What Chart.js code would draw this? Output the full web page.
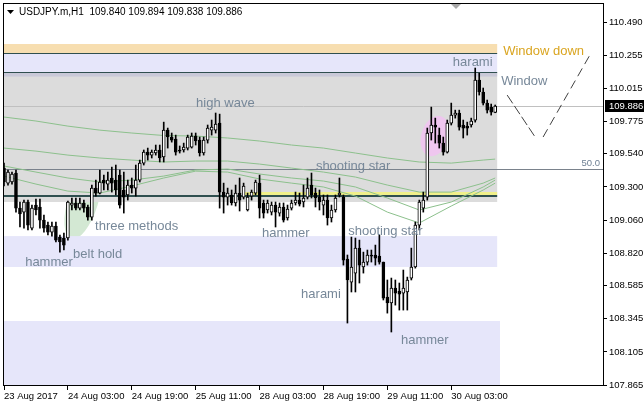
<!DOCTYPE html>
<html>
<head>
<meta charset="utf-8">
<script src="https://cdn.jsdelivr.net/npm/chart.js@4.4.0/dist/chart.umd.min.js"></script>
<style>
html, body { margin: 0; padding: 0; background: #fff; }
canvas { display: block; }
</style>
</head>
<body>
<canvas id="grafica" width="644" height="408"></canvas>
<script>
// USDJPY.m H1 - velas
const simbolo = 'USDJPY.m,H1';
const tickIdx = [0, 16, 32, 48, 64, 80, 96, 112];
const tickText = ['23 Aug 2017', '24 Aug 03:00', '24 Aug 19:00', '25 Aug 11:00', '28 Aug 03:00', '28 Aug 19:00', '29 Aug 11:00', '30 Aug 03:00'];
const yTicks = [110.490, 110.255, 110.015, 109.775, 109.540, 109.300, 109.060, 108.820, 108.585, 108.345, 108.105, 107.865];

const open = [109.437,109.328,109.336,109.401,109.147,109.118,109.191,109.002,109.169,109.155,
109.060,109.024,108.973,109.017,108.937,108.930,108.930,109.169,109.184,109.147,
109.184,109.155,109.082,109.292,109.256,109.350,109.321,109.365,109.350,109.386,
109.278,109.242,109.314,109.292,109.350,109.473,109.553,109.531,109.546,109.568,
109.517,109.712,109.662,109.647,109.568,109.568,109.582,109.589,109.669,109.640,
109.546,109.640,109.712,109.712,109.763,109.263,109.227,109.242,109.184,109.256,
109.227,109.133,109.234,109.256,109.328,109.184,109.133,109.118,109.169,109.111,
109.155,109.075,109.147,109.184,109.205,109.191,109.227,109.314,109.256,109.227,
109.169,109.205,109.075,109.133,109.242,109.227,108.778,108.611,108.676,108.857,
108.720,108.756,108.807,108.807,108.799,108.756,108.502,108.459,108.568,108.546,
108.531,108.539,108.640,108.720,109.024,109.147,109.227,109.691,109.749,109.676,
109.618,109.553,109.763,109.821,109.836,109.749,109.741,109.749,109.785,110.075,
109.988,109.908,109.879,109.840];
const high = [109.473,109.423,109.408,109.423,109.191,109.205,109.205,109.169,109.213,109.213,
109.097,109.046,109.046,109.046,108.952,108.966,109.198,109.220,109.220,109.220,
109.205,109.169,109.314,109.350,109.423,109.386,109.408,109.444,109.459,109.423,
109.408,109.350,109.365,109.459,109.495,109.568,109.582,109.568,109.604,109.604,
109.770,109.727,109.691,109.676,109.597,109.618,109.676,109.691,109.691,109.662,
109.662,109.749,109.785,109.836,109.828,109.328,109.292,109.278,109.314,109.365,
109.328,109.256,109.278,109.350,109.386,109.205,109.205,109.191,109.191,109.184,
109.184,109.169,109.205,109.263,109.256,109.314,109.365,109.401,109.292,109.278,
109.242,109.242,109.169,109.242,109.365,109.242,108.807,108.937,108.930,108.915,
108.828,108.843,108.843,108.879,108.952,108.756,108.626,108.640,108.626,108.604,
108.698,108.647,108.857,109.046,109.205,109.263,109.727,109.879,109.799,109.727,
109.662,109.785,109.908,109.857,109.857,109.785,109.770,109.799,110.162,110.125,
110.017,109.930,109.901,109.894];
const low = [109.307,109.314,109.321,109.118,109.010,109.002,108.988,108.988,109.097,109.002,
108.973,108.952,108.944,108.901,108.828,108.843,108.915,109.133,109.133,109.133,
109.118,109.060,109.060,109.234,109.249,109.278,109.278,109.263,109.242,109.147,
109.111,109.205,109.256,109.234,109.336,109.459,109.495,109.510,109.531,109.481,
109.481,109.582,109.625,109.531,109.546,109.553,109.568,109.582,109.604,109.524,
109.531,109.618,109.676,109.691,109.147,109.111,109.169,109.169,109.162,109.126,
109.213,109.126,109.205,109.242,109.075,109.075,109.111,109.097,109.010,109.089,
109.046,109.060,109.133,109.169,109.162,109.155,109.213,109.220,109.155,109.133,
109.097,109.024,109.046,109.118,109.227,108.734,108.314,108.539,108.539,108.604,
108.676,108.734,108.756,108.734,108.741,108.481,108.386,108.249,108.444,108.408,
108.408,108.408,108.626,108.712,108.988,109.118,109.205,109.640,109.618,109.582,
109.531,109.546,109.749,109.799,109.712,109.655,109.676,109.734,109.770,109.966,
109.894,109.836,109.821,109.838];
const close = [109.336,109.408,109.394,109.147,109.104,109.191,109.024,109.147,109.133,109.060,
109.002,108.973,109.017,108.915,108.901,108.879,109.191,109.184,109.147,109.184,
109.147,109.082,109.292,109.256,109.336,109.328,109.350,109.328,109.278,109.169,
109.227,109.314,109.292,109.350,109.473,109.553,109.531,109.553,109.568,109.510,
109.712,109.662,109.640,109.553,109.560,109.589,109.662,109.669,109.633,109.546,
109.640,109.727,109.734,109.756,109.263,109.227,109.256,109.184,109.256,109.205,
109.307,109.227,109.263,109.336,109.147,109.111,109.184,109.169,109.118,109.155,
109.060,109.140,109.184,109.205,109.176,109.220,109.292,109.242,109.220,109.191,
109.205,109.075,109.133,109.220,109.256,108.770,108.626,108.720,108.857,108.734,
108.756,108.807,108.799,108.785,108.756,108.495,108.459,108.568,108.531,108.524,
108.568,108.626,108.720,109.024,109.191,109.205,109.691,109.749,109.734,109.618,
109.553,109.763,109.821,109.836,109.734,109.727,109.727,109.778,110.075,109.988,
109.908,109.857,109.843,109.886];

// medias moviles (leidas cada 8 barras)
const maIdx = [0, 8, 16, 24, 32, 40, 48, 56, 64, 72, 80, 88, 96, 104, 112, 120, 123];
const maLenta = [109.807,109.778,109.741,109.712,109.691,109.673,109.669,109.655,109.633,109.604,109.582,109.546,109.510,109.481,109.473,109.495,109.502];
const maMedia = [109.582,109.560,109.531,109.510,109.495,109.481,109.488,109.488,109.466,109.437,109.408,109.372,109.314,109.263,109.263,109.328,109.365];
const maRapida1 = [109.452,109.408,109.365,109.336,109.350,109.379,109.423,109.430,109.394,109.365,109.343,109.300,109.220,109.133,109.191,109.300,109.350];
const maRapida2 = [109.379,109.321,109.270,109.256,109.307,109.365,109.415,109.408,109.358,109.328,109.300,109.234,109.118,109.039,109.162,109.278,109.328];

// zigzag "Window"
const ventanaIdxA = [126, 133];
const ventanaValA = [109.966, 109.662];
const ventanaIdxB = [135, 147];
const ventanaValB = [109.662, 110.271];

const fibo50 = 109.430;
const yMin = 107.865;
const yMax = 110.626;
const nCat = 151;

const fuente = "'Liberation Sans', Arial, sans-serif";

const etiquetas = [];
for (let i = 0; i < nCat; i++) {
  const k = tickIdx.indexOf(i);
  etiquetas.push(k >= 0 ? tickText[k] : '');
}

function serieDispersa(idx, vals) {
  const d = new Array(nCat).fill(null);
  idx.forEach(function (k, j) { d[k] = vals[j]; });
  return d;
}

// zonas de fondo (indice de barra, precio)
const cajas = [
  { i0: 0, i1: 123.5, p0: 110.336, p1: 110.270, color: '#f7deb0' },
  { i0: 0, i1: 123.5, p0: 110.270, p1: 110.133, color: '#e6e6fa' },
  { i0: 0, i1: 123.5, p0: 110.133, p1: 109.191, color: '#dcdcdc' },
  { i0: 0, i1: 123.5, p0: 110.133, p1: 110.100, color: '#c9c9d8' },
  { i0: 0, i1: 123.5, p0: 108.944, p1: 108.720, color: '#e6e6fa' },
  { i0: 0, i1: 124.2, p0: 108.329, p1: yMin, color: '#e6e6fa' }
];
const lineas = [
  { i0: 0, i1: 123.5, p: 110.270, color: '#2f4f4f', w: 1 },
  { i0: 0, i1: 123.5, p: 110.133, color: '#2f4f4f', w: 1 },
  { i0: 60, i1: 123.5, p: 109.259, color: '#f0f08a', w: 3 },
  { i0: 0, i1: 123.5, p: 109.234, color: '#2f4f4f', w: 2 },
  { i0: 0, i1: 150, p: close[close.length - 1], color: '#c0c0c0', w: 1 },
  { i0: 0, i1: 150, p: fibo50, color: '#7a828c', w: 1 }
];
const zonaVerde = { i: 19.8, p: 109.200, ri: 3.8, rp: 0.29, rot: 0.3, color: '#d3e8d3' };
const zonaRosa = { i: 107.9, p: 109.669, ri: 3.4, rp: 0.15, rot: 0.3, color: '#efc6ef' };

const notas = [
  { t: 'high wave', i: 48.1, p: 109.908 },
  { t: 'three methods', i: 22.8, p: 109.017 },
  { t: 'belt hold', i: 17.3, p: 108.814 },
  { t: 'hammer', i: 5.3, p: 108.756 },
  { t: 'hammer', i: 64.6, p: 108.966 },
  { t: 'shooting star', i: 78.1, p: 109.452 },
  { t: 'shooting star', i: 86.2, p: 108.981 },
  { t: 'harami', i: 74.4, p: 108.524 },
  { t: 'harami', i: 112.4, p: 110.205 },
  { t: 'hammer', i: 99.4, p: 108.191 },
  { t: 'Window', i: 124.5, p: 110.068 },
  { t: 'Window down', i: 125, p: 110.285, c: '#daa520' }
];

function elipse(ctx, x, y, e) {
  const cx = x.getPixelForValue(e.i), cy = y.getPixelForValue(e.p);
  const rx = Math.abs(x.getPixelForValue(e.i + e.ri) - cx);
  const ry = Math.abs(y.getPixelForValue(e.p + e.rp) - cy);
  ctx.fillStyle = e.color;
  ctx.beginPath();
  ctx.ellipse(cx, cy, rx, ry, e.rot, 0, Math.PI * 2);
  ctx.fill();
}

const fondo = {
  id: 'fondo',
  beforeDatasetsDraw: function (chart) {
    const ctx = chart.ctx, ca = chart.chartArea, x = chart.scales.x, y = chart.scales.y;
    ctx.save();
    ctx.beginPath();
    ctx.rect(ca.left, ca.top, ca.right - ca.left, ca.bottom - ca.top);
    ctx.clip();
    elipse(ctx, x, y, zonaVerde);
    cajas.forEach(function (b) {
      const x0 = x.getPixelForValue(b.i0), x1 = x.getPixelForValue(b.i1);
      const y0 = y.getPixelForValue(b.p0), y1 = y.getPixelForValue(b.p1);
      ctx.fillStyle = b.color;
      ctx.fillRect(x0, Math.min(y0, y1), x1 - x0, Math.abs(y1 - y0));
    });
    elipse(ctx, x, y, zonaRosa);
    lineas.forEach(function (l) {
      let py = y.getPixelForValue(l.p);
      if (l.w % 2 === 1) py = Math.round(py) + 0.5; else py = Math.round(py);
      ctx.strokeStyle = l.color;
      ctx.lineWidth = l.w;
      ctx.beginPath();
      ctx.moveTo(x.getPixelForValue(l.i0), py);
      ctx.lineTo(x.getPixelForValue(l.i1), py);
      ctx.stroke();
    });
    ctx.restore();
  }
};

const textos = {
  id: 'textos',
  afterDraw: function (chart) {
    const ctx = chart.ctx, ca = chart.chartArea, x = chart.scales.x, y = chart.scales.y;
    ctx.save();
    // etiquetas de patrones
    ctx.font = '13px ' + fuente;
    ctx.textAlign = 'left';
    ctx.textBaseline = 'middle';
    notas.forEach(function (n) {
      ctx.fillStyle = n.c || '#778899';
      ctx.fillText(n.t, x.getPixelForValue(n.i), y.getPixelForValue(n.p));
    });
    ctx.font = '9.5px ' + fuente;
    ctx.textAlign = 'right';
    ctx.fillStyle = '#6f8094';
    ctx.fillText('50.0', ca.right - 3, y.getPixelForValue(fibo50) - 6);

    // marco
    ctx.strokeStyle = '#000';
    ctx.lineWidth = 1;
    ctx.strokeRect(3.5, 3.5, ca.right - 3, ca.bottom - 3);
    ctx.fillStyle = '#a8a8a8';
    ctx.beginPath();
    ctx.moveTo(451, 4); ctx.lineTo(461, 4); ctx.lineTo(456, 9); ctx.closePath();
    ctx.fill();

    // titulo
    const u = open.length - 1;
    ctx.fillStyle = '#000';
    ctx.beginPath();
    ctx.moveTo(7, 10); ctx.lineTo(14, 10); ctx.lineTo(10.5, 14); ctx.closePath();
    ctx.fill();
    ctx.font = '10px ' + fuente;
    ctx.textAlign = 'left';
    ctx.fillText(simbolo + '  ' + open[u].toFixed(3) + ' ' + high[u].toFixed(3) + ' ' + low[u].toFixed(3) + ' ' + close[u].toFixed(3), 19, 12);

    // precio actual
    ctx.font = '9.5px ' + fuente;
    const py = Math.round(y.getPixelForValue(close[u]));
    ctx.fillStyle = '#000';
    ctx.fillRect(ca.right + 2, py - 6, 644 - ca.right - 2, 12);
    ctx.fillStyle = '#fff';
    ctx.fillText(close[u].toFixed(3), ca.right + 6, py);
    ctx.restore();
  }
};

const ctx = document.getElementById('grafica').getContext('2d');
const grafica = new Chart(ctx, {
  type: 'bar',
  data: {
    labels: etiquetas,
    datasets: [
      {
        label: 'cuerpos',
        data: open.map(function (o, i) { return [o, close[i]]; }),
        backgroundColor: open.map(function (o, i) { return close[i] >= o ? '#ffffff' : '#000000'; }),
        borderColor: '#000000',
        borderWidth: 1,
        borderSkipped: false,
        barThickness: 3,
        minBarLength: 1,
        grouped: false,
        order: 0
      },
      {
        label: 'mechas',
        data: low.map(function (l, i) { return [l, high[i]]; }),
        backgroundColor: '#000000',
        barThickness: 1,
        grouped: false,
        order: 1
      },
      { type: 'line', label: 'MA lenta', data: serieDispersa(maIdx, maLenta), borderColor: '#8cc08c', borderWidth: 1, pointRadius: 0, spanGaps: true, order: 2 },
      { type: 'line', label: 'MA media', data: serieDispersa(maIdx, maMedia), borderColor: '#8cc08c', borderWidth: 1, pointRadius: 0, spanGaps: true, order: 2 },
      { type: 'line', label: 'MA rapida 1', data: serieDispersa(maIdx, maRapida1), borderColor: '#8cc08c', borderWidth: 1, pointRadius: 0, spanGaps: true, order: 2 },
      { type: 'line', label: 'MA rapida 2', data: serieDispersa(maIdx, maRapida2), borderColor: '#8cc08c', borderWidth: 1, pointRadius: 0, spanGaps: true, order: 2 },
      { type: 'line', label: 'Window A', data: serieDispersa(ventanaIdxA, ventanaValA), borderColor: '#404040', borderWidth: 1, borderDash: [10, 3], pointRadius: 0, spanGaps: true, order: 3 },
      { type: 'line', label: 'Window B', data: serieDispersa(ventanaIdxB, ventanaValB), borderColor: '#404040', borderWidth: 1, borderDash: [9, 5], pointRadius: 0, spanGaps: true, order: 3 }
    ]
  },
  options: {
    responsive: false,
    animation: false,
    events: [],
    layout: { padding: { left: 4, top: 4, right: 0, bottom: 0 } },
    plugins: { legend: { display: false }, tooltip: { enabled: false } },
    scales: {
      x: {
        offset: false,
        afterBuildTicks: function (s) { s.ticks = tickIdx.map(function (v) { return { value: v }; }); },
        afterFit: function (s) { s.height = 23; s.paddingLeft = 0; s.paddingRight = 0; },
        ticks: {
          autoSkip: false, maxRotation: 0, minRotation: 0, align: 'start', padding: 1,
          color: '#000', font: { family: fuente, size: 9.5 },
          callback: function (v) { return etiquetas[v]; }
        },
        grid: { drawOnChartArea: false, offset: false, color: '#000', tickLength: 5 },
        border: { display: false }
      },
      y: {
        position: 'right',
        min: yMin,
        max: yMax,
        afterBuildTicks: function (s) { s.ticks = yTicks.map(function (v) { return { value: v }; }); },
        afterFit: function (s) { s.width = 41; s.paddingTop = 0; s.paddingBottom = 0; },
        ticks: {
          autoSkip: false, padding: 2, color: '#000', font: { family: fuente, size: 9.5 },
          callback: function (v) { return Number(v).toFixed(3); }
        },
        grid: { drawOnChartArea: false, color: '#000', tickLength: 4 },
        border: { display: false }
      }
    }
  },
  plugins: [fondo, textos]
});
</script>
</body>
</html>
